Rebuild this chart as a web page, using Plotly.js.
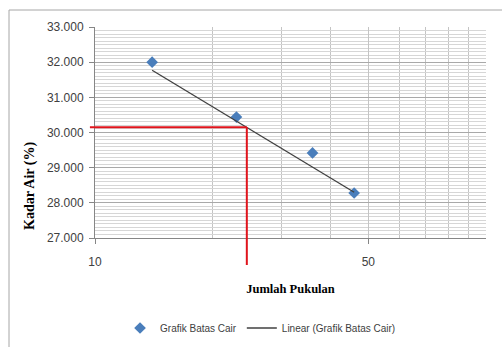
<!DOCTYPE html>
<html>
<head>
<meta charset="utf-8">
<script src="https://cdn.plot.ly/plotly-3.0.1.min.js"></script>
<style>html,body{margin:0;padding:0;background:#fff;}#chart{width:502px;height:347px;}</style>
</head>
<body>
<div id="chart"></div>
<script>
// Data
const blows = [14, 23, 36, 46];
const waterContent = [32.0, 30.44, 29.42, 28.28];
const trendX = [14, 46];
const trendY = [31.77, 28.30];
const crossX = [24.45];
const crossY = [30.15];
const xTickVals = [10, 50];
const xMinorVals = [20, 30, 40, 60, 70, 80, 90, 100];
const xRange = [10, 100];
const yRange = [27, 33];

const lx0 = Math.log10(xRange[0]), lx1 = Math.log10(xRange[1]);
const px = v => (Math.log10(v) - lx0) / (lx1 - lx0);
const py = v => (v - yRange[0]) / (yRange[1] - yRange[0]);

const tickFont = {family: 'Liberation Sans, Arial, sans-serif', size: 12, color: '#404040'};

const traces = [
  {
    x: blows, y: waterContent, type: 'scatter', mode: 'markers',
    name: 'Grafik Batas Cair',
    marker: {symbol: 'diamond', size: 9, color: '#4a7ebb'}
  },
  {
    x: trendX, y: trendY, type: 'scatter', mode: 'lines',
    name: 'Linear (Grafik Batas Cair)',
    line: {color: '#404040', width: 1.3}
  }
];

const layout = {
  width: 502, height: 347,
  margin: {l: 95, r: 16, t: 27, b: 109, autoexpand: false},
  paper_bgcolor: '#ffffff', plot_bgcolor: '#ffffff',
  showlegend: true,
  legend: {
    orientation: 'h', x: 0.064, xanchor: 'left', y: -0.4265, yanchor: 'middle',
    font: {family: 'Liberation Sans, Arial, sans-serif', size: 10, color: '#404040'},
    bgcolor: 'rgba(0,0,0,0)'
  },
  xaxis: {
    type: 'log', range: [lx0, lx1],
    tickmode: 'array', tickvals: xTickVals, ticktext: xTickVals.map(String),
    ticks: 'outside', ticklen: 5, tickcolor: '#868686',
    showline: true, linecolor: '#868686', linewidth: 1,
    showgrid: true, gridcolor: '#c4c4c4', gridwidth: 1,
    minor: {tickmode: 'array', tickvals: xMinorVals, showgrid: true, gridcolor: '#c4c4c4', ticks: ''},
    tickfont: tickFont, ticklabelstandoff: 8,
    zeroline: false, fixedrange: true, automargin: false,
    title: {text: 'Jumlah Pukulan', font: {family: 'Liberation Serif, Times New Roman, serif', size: 12.5, color: '#000', weight: 'bold'}, standoff: 15}
  },
  yaxis: {
    range: yRange, dtick: 1, tickformat: '.3f',
    ticks: 'outside', ticklen: 5, tickcolor: '#868686',
    showline: true, linecolor: '#868686', linewidth: 1,
    showgrid: true, gridcolor: '#a9a9a9', gridwidth: 1,
    minor: {dtick: 0.1, showgrid: true, gridcolor: '#d6d6d6', ticks: ''},
    tickfont: tickFont, ticklabelstandoff: 3,
    zeroline: false, fixedrange: true, automargin: false
  },
  annotations: [
    {
      text: '<b>Kadar Air (%)</b>', textangle: -90,
      xref: 'paper', yref: 'paper', x: (30 - 95) / 391, y: (238 - 186) / 211,
      xanchor: 'center', yanchor: 'middle', showarrow: false,
      font: {family: 'Liberation Serif, Times New Roman, serif', size: 14, color: '#000'}
    }
  ],
  shapes: [
    {type: 'rect', xref: 'paper', yref: 'paper', x0: (9 - 95) / 391, x1: 1.6, y0: -1.2, y1: (238 - 10) / 211,
     line: {color: '#a6a6a6', width: 1}, fillcolor: 'rgba(0,0,0,0)', layer: 'below'},
    {type: 'line', xref: 'paper', yref: 'paper', x0: -0.013, x1: px(crossX[0]), y0: py(crossY[0]), y1: py(crossY[0]),
     line: {color: '#e0141c', width: 2}},
    {type: 'line', xref: 'paper', yref: 'paper', x0: px(crossX[0]), x1: px(crossX[0]), y0: py(crossY[0]), y1: -0.128,
     line: {color: '#e0141c', width: 2}}
  ]
};

Plotly.newPlot('chart', traces, layout, {displayModeBar: false, staticPlot: true});
</script>
</body>
</html>
